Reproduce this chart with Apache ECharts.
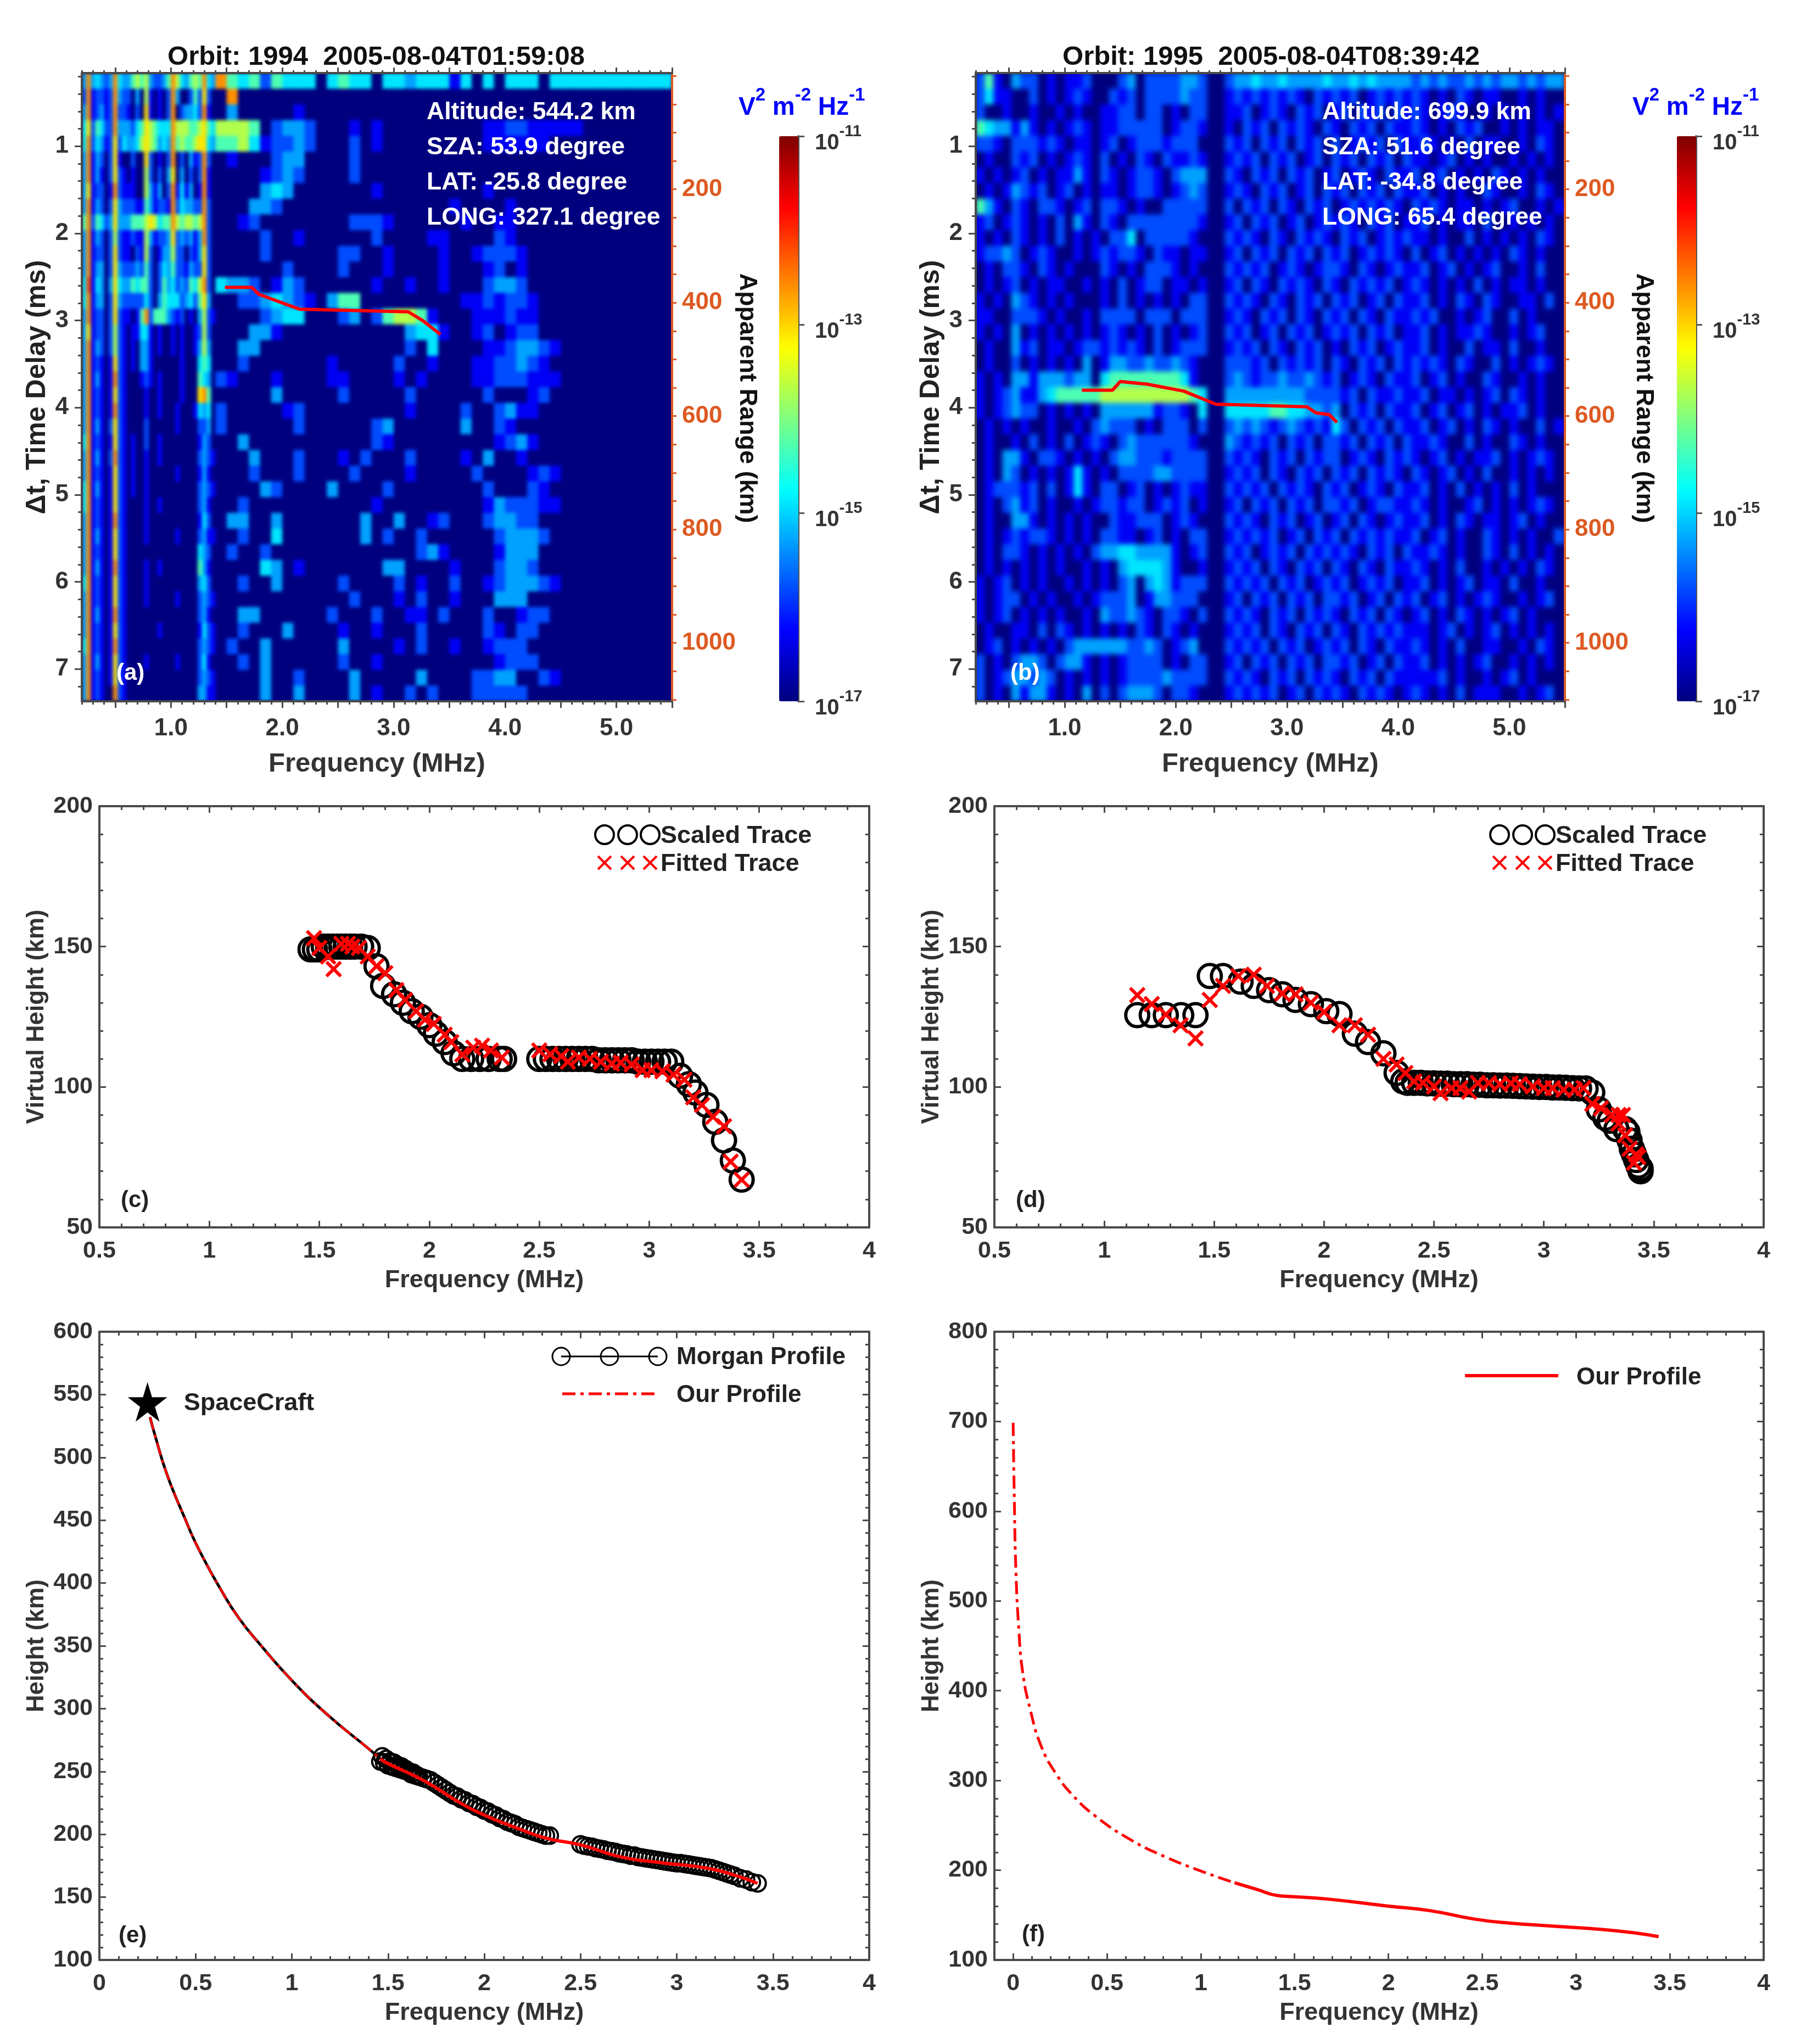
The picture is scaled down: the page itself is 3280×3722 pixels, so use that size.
<!DOCTYPE html>
<html>
<head>
<meta charset="utf-8">
<style>
  html, body { margin: 0; padding: 0; background: #fff; }
  #page { position: relative; width: 3280px; height: 3722px; overflow: hidden; }
  #main { position: absolute; left: 0; top: 0; width: 3280px; height: 3722px; z-index: 2; }
  .plot { position: absolute; overflow: hidden; background: #00007f; z-index: 1; }
  .cells { width: 100%; height: 100%; }
  #cellsA { filter: blur(3px); }
  #cellsB { filter: blur(5px); }
</style>
<script src="https://cdn.jsdelivr.net/npm/echarts@6/dist/echarts.min.js"></script>
</head>
<body>
<div id="page">
  <div class="plot" style="left:149px;top:133px;width:1075px;height:1144px"><div class="cells" id="cellsA"></div></div>
  <div class="plot" style="left:1777px;top:133px;width:1073px;height:1144px"><div class="cells" id="cellsB"></div></div>
  <div id="main"></div>
</div>
<script>
// spectrogram levels, one char per cell, one string per delay bin
// 0 = background ... 9 = strongest, see levelExponent
const levelExponent = [-17, -16.3, -15.8, -15.3, -14.9, -14.3, -13.7, -13.1, -12.6, -12.2];

// panel (a): 30 narrow frequency bins (0.2-1.4 MHz) then 41 wide ones (1.4-5.5 MHz)
const spectrogramA = [
  '3834323843 3565632235 8643565843 8545254440 4544044344 4140404440 4444444444 4',
  '2812212832 2030610102 8300252720 0800000000 0000000000 0000000000 0000000000 0',
  '3812312822 1020710102 8023342810 0300000100 0000000000 0000000000 0000000000 0',
  '4725422833 3245765444 8666556754 6665023320 0010100000 0000112211 1110000000 0',
  '4824312724 3346765343 8565567743 5564122320 0020100000 0000111111 0000000000 0',
  '3813202710 0200720102 8020312820 0100023300 0020000000 0000000000 0000000000 0',
  '3813102721 0100620203 7030202810 0000123200 0020000000 0000000000 0000000000 0',
  '3712201821 1100631302 8141301810 0000343000 0000100000 0000100000 0000000000 0',
  '3813202732 2211531221 8243322820 0003320000 0000000000 0100001000 0000000000 0',
  '5825423733 3555676455 8656656820 0012000000 0022210000 0010011000 0000000000 0',
  '3813202621 1211631223 7232313820 0000200100 0000200001 1000021000 0000000000 0',
  '3812202721 1021620133 6220213720 0000200000 0220010000 1001222100 0000000000 0',
  '3813302732 2232520243 5221322720 0000002000 0200010000 1000120100 0000000000 0',
  '4914303743 3545520253 4232546820 4332013200 0000100100 1000233200 0000000000 0',
  '4813302732 2222420354 4423425730 0022343210 3550000000 0011212210 0000000000 0',
  '3812202721 1015825553 2120103621 0000234400 0230256651 0001112110 0000000000 0',
  '3712202621 0114410100 1010012620 0003310000 0000000344 1001201220 0000000000 0',
  '3813202621 0103310100 1010013630 0033000000 0000000204 0000112332 1000000000 0',
  '3812101721 0103310000 0010004540 0020000000 1000002001 0001122321 0000000000 0',
  '3813101821 0001210100 0010005430 2100010000 1100001010 0001122211 1000000000 0',
  '3812101721 0000100100 0010007850 0000030000 0200000200 0000200012 0000000000 0',
  '3812101821 0000100100 0100014340 2000001200 0000000100 0020023110 0000000000 0',
  '3813102721 0000200000 0100002230 2000000200 0000230000 0030021000 0000000000 0',
  '4812101721 0100200100 0000001320 0030000000 0000210000 0000012310 0000000000 0',
  '3813102821 0100100100 0000002321 0003000200 0102000200 0010300100 0000000000 0',
  '3812101721 0100100000 0100001310 0002000200 0020000100 0002000012 1000000000 0',
  '4813101721 0100100000 0000002321 0000320000 3000020000 0000200021 0000000000 0',
  '4812101721 0000100100 0000002310 0020000000 0000100000 0000132221 1000000000 0',
  '3812101821 0000100000 0000001420 0330030000 0003003001 2000233220 0000000000 0',
  '3813101721 0000100000 0100002311 0020040000 0003020020 0000023332 0000000000 0',
  '3812101721 0000000000 0000004320 0200200000 0000000023 1000013330 0000000000 0',
  '3813101821 0000100100 0000005310 0000430100 0000033000 0100023320 0000000000 0',
  '4812101721 0000100000 0000003420 0020030000 0200002010 0200123332 1000000000 0',
  '3812101721 0000100000 0100002321 0000000000 0020001020 0100033300 0000000000 0',
  '3813101821 0000000000 0000002310 0033000000 2000200110 2000200122 0000000000 0',
  '3812101721 0000000100 0000001421 0020003000 0100100020 0000210220 0000000000 0',
  '4812101821 0000000000 0000002321 0200300000 0300001020 0100122200 0000000000 0',
  '3813101721 0000100000 0100002410 0020300000 0200100000 0000012220 0000000000 0',
  '3812101721 0000000000 0000002321 0000300200 0030000030 0002233002 1000000000 0',
  '3812100821 0000000000 0000003311 0000300300 0030100202 0002222200 0000000000 0'
];

// panel (b): 66 frequency bins of 0.08 MHz from 0.2 MHz
const spectrogramB = [
  '2510322010 1120002302 22233200 23 3433433334 3343433332 3232232323 323233',
  '2411002010 1210021202 22232200 12 1212121021 2120121212 1010210110 010100',
  '2001001001 0100112202 20102200 11 2012102120 1202120212 1012100101 010101',
  '5433131010 1210112222 20122100 10 2120212102 1021202112 1010212001 010110',
  '2210222121 0110120122 21222000 21 2021202120 2012120211 2101020110 010210',
  '0100212010 1210201021 02112100 12 1202120120 2120212021 1012010100 101010',
  '1010120101 1310210122 10233300 21 0212021201 2012102112 0120101021 010100',
  '0101321201 2010110122 10123200 12 1021201202 1202120211 2010100210 010210',
  '5310210221 0120221010 02222200 20 2120210212 0121212102 1210110101 200101',
  '1201210102 0310210222 22222100 12 0212012012 1210212011 2010110200 101010',
  '1010210102 0101022402 22221000 21 2102102121 0212012121 1010020101 010210',
  '1223201210 0101212210 21101100 12 0212021202 1201212102 0120101010 210100',
  '0102210210 1000210102 22101000 21 2120121012 2102101211 2012010120 010200',
  '0101201011 0010102012 20110100 12 0210212102 1021212012 1010102010 110100',
  '1010321010 1000102010 10102200 21 2102102120 2120120211 2010210210 011020',
  '1100222101 0010222202 22022200 12 1021202102 1202102112 1200101200 201000',
  '1010301010 1010121010 20101200 21 2012021201 2120212011 2010112100 101200',
  '0100312011 0122121210 20122200 12 1202102120 1021201211 2010020110 200100',
  '0100201010 1030133223 22321000 22 2120212120 2102120212 1210210020 101210',
  '1010331333 2330455555 55541000 23 2122322321 2012102112 0120100210 010100',
  '1012311345 5555666666 66665400 33 3333333222 2120211211 2011010120 210100',
  '1012322010 1010333333 12210400 44 4445544332 3021202112 0120120101 120100',
  '0101010010 0102322201 02220200 23 2321232121 4202120211 2012010210 100201',
  '0100102010 2012102322 22221000 32 1212021202 2120212021 1210020100 210100',
  '0103310221 0101023322 21222200 21 2102120212 2012102121 0120101120 101210',
  '0103201010 1410102222 33222200 12 1202102120 2120212102 1012010200 101010',
  '0122212020 1410220120 10121100 21 2120212102 1201210211 2010201010 201000',
  '0102312010 0101221220 12120100 12 0212021202 2120122112 1010012010 101210',
  '0100331010 1010021122 20121000 21 2102120120 1202101211 2010210110 120100',
  '0101212210 1010221101 20102200 12 1212012021 2021212112 0120100210 101002',
  '0102210101 0102334433 33101200 21 2012120212 1210212021 1210100210 201010',
  '0101010101 0010103444 43100100 12 1202102120 2102102112 1010200101 010210',
  '1012010100 1010102303 43122200 21 2120212012 1201212011 2010120110 200100',
  '1012201010 0101222301 33222000 12 0212021202 2120120212 0120101210 010120',
  '1012010101 0010322321 02210200 21 2102120212 1021202101 2010210101 201000',
  '0100110202 1010101021 02101000 12 1202102120 2102121211 1012010120 101010',
  '0120101010 2333333223 20123000 21 2120212012 1202102112 1010200110 010210',
  '2010233202 3310101222 20102200 12 0212021202 2120120211 2010101200 101010',
  '2012332320 1010101222 23222200 21 2102120212 1021202111 1120100101 201000',
  '2010313310 1030202333 20221000 12 1212012021 2102121012 1010201110 010120'
];

// scaled trace overlaid on the spectrograms: [MHz, ms]
const overlayA = [[1.485, 2.62], [1.727, 2.62], [1.79, 2.70], [2.155, 2.87], [3.13, 2.90], [3.26, 3.0], [3.42, 3.16]];
const overlayB = [[1.155, 3.8], [1.43, 3.8], [1.5, 3.7], [1.74, 3.73], [2.07, 3.81], [2.36, 3.96], [3.18, 3.99], [3.26, 4.06], [3.38, 4.08], [3.45, 4.17]];

// panel (c): [MHz, km]
const scaledC = [[1.46, 149], [1.48, 149], [1.5, 149], [1.52, 150], [1.54, 150], [1.56, 150], [1.58, 150], [1.6, 150], [1.62, 150], [1.64, 150], [1.66, 150], [1.69, 150], [1.72, 149.5],
  [1.76, 143], [1.79, 136], [1.84, 133], [1.88, 130], [1.92, 127], [1.96, 125], [2.0, 122], [2.03, 119], [2.07, 116], [2.11, 112], [2.15, 110], [2.19, 110], [2.23, 110], [2.27, 110], [2.32, 110], [2.34, 110],
  [2.5, 110], [2.53, 110], [2.56, 110], [2.59, 110], [2.62, 110], [2.65, 110], [2.68, 110], [2.71, 110], [2.74, 110], [2.77, 109.5], [2.8, 109.5], [2.83, 109.5], [2.86, 109.5], [2.89, 109.5], [2.92, 109.5], [2.95, 109], [2.98, 109], [3.01, 109], [3.04, 109], [3.07, 109], [3.1, 109],
  [3.14, 104], [3.18, 101], [3.21, 98], [3.26, 93.6], [3.3, 87.6], [3.34, 81], [3.38, 73.8], [3.42, 67]];
const fittedC = [[1.476, 153], [1.5, 149.5], [1.54, 146.5], [1.565, 142], [1.6, 151], [1.63, 151], [1.65, 150], [1.68, 149.5], [1.72, 146.5], [1.76, 143], [1.8, 140.5], [1.85, 134.5], [1.89, 131], [1.94, 127], [1.98, 124], [2.02, 122.5], [2.07, 118.6], [2.1, 116], [2.15, 111.6], [2.2, 114], [2.24, 114.7], [2.28, 113], [2.33, 110.5],
  [2.5, 113], [2.55, 111.7], [2.6, 111], [2.63, 109], [2.68, 110.5], [2.73, 110], [2.78, 109], [2.83, 108.3], [2.87, 108.7], [2.92, 108], [2.97, 106], [3.01, 106], [3.06, 105.6], [3.11, 104.4], [3.16, 102.6], [3.2, 96.3], [3.24, 93.6], [3.29, 89.4], [3.34, 86], [3.37, 73.4], [3.42, 67]];

// panel (d): [MHz, km]
const scaledD = [[1.15, 125.6], [1.216, 125.6], [1.28, 125.6], [1.35, 125.6], [1.415, 125.6], [1.48, 139.5], [1.54, 139.5], [1.62, 137.5], [1.68, 136], [1.75, 134.5], [1.81, 133], [1.87, 131], [1.94, 129.5], [2.01, 127], [2.07, 126], [2.14, 119], [2.2, 116], [2.27, 112], [2.33, 105], [2.36, 102],
  [2.38, 101.5], [2.41, 101.5], [2.44, 101.5], [2.47, 101.3], [2.5, 101.3], [2.53, 101.2], [2.56, 101.2], [2.59, 101], [2.62, 101], [2.65, 101], [2.68, 100.8], [2.71, 100.8], [2.74, 100.6], [2.77, 100.6], [2.8, 100.5], [2.83, 100.5], [2.86, 100.4], [2.89, 100.3], [2.92, 100.2], [2.95, 100.1], [2.98, 100], [3.01, 100], [3.04, 99.8], [3.07, 99.8], [3.1, 99.7], [3.13, 99.6], [3.16, 99.5], [3.19, 99.5],
  [3.22, 98], [3.25, 92], [3.28, 89], [3.3, 88], [3.33, 85], [3.37, 85], [3.38, 84], [3.39, 81], [3.4, 78], [3.41, 76], [3.42, 74], [3.43, 72], [3.44, 71], [3.44, 70]];
const fittedD = [[1.15, 132.7], [1.216, 129.5], [1.28, 125.8], [1.347, 122], [1.415, 117.3], [1.48, 131], [1.54, 136], [1.61, 139.5], [1.68, 140], [1.74, 136], [1.81, 133.3], [1.87, 133], [1.94, 130], [2.0, 126.7], [2.07, 122], [2.14, 122], [2.2, 118.6], [2.27, 110], [2.33, 108], [2.37, 105], [2.41, 102], [2.45, 101.5], [2.5, 100.2], [2.53, 97.8], [2.58, 99.6], [2.62, 99.6], [2.66, 98.4], [2.7, 101.4], [2.75, 101.4], [2.8, 101], [2.85, 101.3], [2.89, 101], [2.95, 100.2], [3.0, 99.6], [3.04, 99.6], [3.09, 99], [3.14, 99], [3.18, 99.6], [3.22, 94], [3.26, 92.4], [3.31, 90], [3.34, 90], [3.36, 90], [3.34, 87], [3.37, 82.8], [3.39, 78], [3.42, 76], [3.41, 73], [3.43, 75]];

// panel (e): [MHz, km]
const spacecraftE = [[0.25, 544.2]];
const modelProfileE = [[0.263, 532], [0.29, 517], [0.35, 487], [0.44, 453], [0.516, 427], [0.636, 393.5], [0.725, 372], [0.83, 352], [1.0, 322.5], [1.19, 294.5], [1.4, 268], [1.46, 260]];
const measuredProfileE = [[1.46, 260], [1.49, 257], [1.695, 242], [1.875, 225], [2.02, 214], [2.17, 205], [2.32, 197], [2.5, 191.6], [2.71, 182], [2.92, 177.4], [3.16, 173], [3.31, 167], [3.42, 161]];
const morganE = [[1.46, 258], [1.47, 262], [1.48, 257], [1.49, 260], [1.5, 255], [1.51, 258], [1.52, 254], [1.53, 257], [1.54, 253], [1.55, 255], [1.56, 252], [1.57, 254], [1.58, 251], [1.59, 252], [1.6, 250], [1.61, 250], [1.62, 248], [1.63, 249], [1.64, 247], [1.65, 247], [1.66, 246], [1.68, 245], [1.7, 244], [1.72, 243], [1.74, 241], [1.76, 239], [1.78, 237], [1.8, 235], [1.82, 233], [1.84, 231], [1.86, 230], [1.88, 228], [1.9, 227], [1.92, 225], [1.94, 224], [1.96, 222], [1.98, 221], [2.0, 219], [2.02, 218], [2.04, 216], [2.06, 215], [2.08, 213], [2.1, 212], [2.12, 210], [2.14, 209], [2.16, 208], [2.18, 206], [2.2, 205], [2.22, 204], [2.24, 203], [2.26, 202], [2.28, 201], [2.3, 200], [2.32, 199], [2.34, 199],
  [2.5, 192], [2.52, 191], [2.54, 190.5], [2.56, 190], [2.58, 189], [2.6, 188.5], [2.62, 188], [2.64, 187], [2.66, 186.5], [2.68, 186], [2.7, 185], [2.72, 184.5], [2.74, 184], [2.76, 183], [2.78, 183], [2.8, 182], [2.82, 181.5], [2.84, 181], [2.86, 180.5], [2.88, 180], [2.9, 179.5], [2.92, 179], [2.94, 178.5], [2.96, 178], [2.98, 177.5], [3.0, 177], [3.02, 177], [3.04, 176.5], [3.06, 176], [3.08, 175.5], [3.1, 175], [3.12, 174.5], [3.14, 174], [3.16, 173.5], [3.18, 173], [3.2, 172], [3.22, 171], [3.24, 170], [3.26, 169], [3.28, 168], [3.3, 167], [3.33, 165], [3.36, 164], [3.39, 162], [3.42, 161]];

// panel (f): [MHz, km]
const modelProfileF = [[0, 698.5], [0.006, 615.7], [0.015, 532], [0.03, 469], [0.05, 422], [0.09, 380], [0.15, 338], [0.23, 307], [0.32, 283], [0.44, 260], [0.63, 233.5], [0.81, 215], [0.995, 199.5], [1.18, 186]];
const measuredProfileF = [[1.18, 186], [1.3, 178.5], [1.41, 171.7], [1.48, 170.7], [1.67, 168], [2.0, 160], [2.22, 155], [2.46, 145.5], [2.65, 141], [2.86, 138], [3.14, 134], [3.32, 130], [3.44, 126]];

// tick labels
const spectrogramFreqLabels = [1, 2, 3, 4, 5];
const delayLabels = [1, 2, 3, 4, 5, 6, 7];
const rangeLabels = [200, 400, 600, 800, 1000];

const FONT = 'Liberation Sans';
const INK = '#333333';
const BOX = '#4a4a4a';
const ORANGE = '#dd5a22';
const JET = ['#00007f', '#0000ff', '#007fff', '#00ffff', '#7fff7f', '#ffff00', '#ff7f00', '#ff0000', '#7f0000'];
const STAR = 'path://M50,0L61,35L98,35L68,57L79,91L50,70L21,91L32,57L2,35L39,35Z';
const CROSS = 'path://M0,0L10,10M10,0L0,10';
const DELAY_MIN = 0.16, DELAY_MAX = 7.37;

const grids = [], xAxes = [], yAxes = [], seriesList = [], shapes = [];

function range(from, to, step) {
    const out = [];
    for (let i = 0; from + i * step <= to + 1e-9; i++) {
        out.push(Math.round((from + i * step) * 1000) / 1000);
    }
    return out;
}

function addGrid(left, top, right, bottom) {
    grids.push({ left: left, top: top, width: right - left, height: bottom - top, containLabel: false });
    return grids.length - 1;
}

function addAxis(list, config) {
    const color = config.color || BOX;
    const axis = Object.assign({
        type: 'value',
        splitLine: { show: false },
        nameLocation: 'middle',
        nameTextStyle: { fontFamily: FONT, fontWeight: 'bold', fontSize: config.nameSize || 44, color: config.nameColor || INK }
    }, config);
    axis.axisLine = { show: config.hideLine ? false : true, onZero: false, lineStyle: { color: color, width: 4 } };
    axis.axisTick = Object.assign({ lineStyle: { color: color, width: 3 } }, config.tick);
    axis.minorTick = Object.assign({ show: false, lineStyle: { color: color, width: 3 } }, config.minor);
    axis.axisLabel = Object.assign({ fontFamily: FONT, fontWeight: 'bold', fontSize: config.labelSize || 43, color: config.labelColor || INK, margin: config.margin || 12 }, config.label);
    delete axis.color; delete axis.tick; delete axis.minor; delete axis.label; delete axis.hideLine;
    delete axis.nameSize; delete axis.nameColor; delete axis.labelSize; delete axis.labelColor; delete axis.margin;
    list.push(axis);
    return list.length - 1;
}

function renderCell(params, api) {
    const a = api.coord([api.value(0), api.value(2)]);
    const b = api.coord([api.value(1), api.value(3)]);
    return {
        type: 'rect',
        shape: { x: a[0], y: a[1], width: b[0] - a[0] + 1, height: b[1] - a[1] + 1 },
        style: { fill: api.visual('color') }
    };
}

// rows of level chars -> [f0, f1, t0, t1, exponent]
function spectrogramCells(rows, freqEdges) {
    const cells = [];
    const rowStep = (DELAY_MAX - DELAY_MIN) / rows.length;
    rows.forEach(function (row, r) {
        row.replace(/ /g, '').split('').forEach(function (ch, c) {
            if (c + 1 < freqEdges.length) {
                cells.push([freqEdges[c], freqEdges[c + 1], DELAY_MIN + r * rowStep, DELAY_MIN + (r + 1) * rowStep, levelExponent[+ch]]);
            }
        });
    });
    return cells;
}

// the cells sit in their own softened chart under the axes
function drawCells(id, rows, freqEdges) {
    const chart = echarts.init(document.getElementById(id));
    chart.setOption({
        animation: false,
        backgroundColor: 'transparent',
        grid: { left: 0, right: 0, top: 0, bottom: 0 },
        xAxis: { type: 'value', show: false, min: 0.2, max: 5.5 },
        yAxis: { type: 'value', show: false, min: DELAY_MIN, max: DELAY_MAX, inverse: true },
        visualMap: { show: false, type: 'continuous', min: -17, max: -11, dimension: 4, seriesIndex: 0, inRange: { color: JET } },
        series: [{
            type: 'custom', renderItem: renderCell, silent: true, clip: false,
            encode: { x: [0, 1], y: [2, 3] }, progressive: 0,
            data: spectrogramCells(rows, freqEdges)
        }]
    });
}

function addSpectrogramPanel(left, right, overlay) {
    const top = 133, bottom = 1277;
    const g = addGrid(left, top, right, bottom);
    const majorF = range(0.5, 5.5, 0.5);
    const x = addAxis(xAxes, {
        gridIndex: g, min: 0.2, max: 5.5, position: 'bottom',
        name: 'Frequency (MHz)', nameGap: 90, nameSize: 49, margin: 28, labelSize: 44,
        tick: { length: 12, customValues: majorF },
        label: { customValues: spectrogramFreqLabels, formatter: function (v) { return v.toFixed(1); } }
    });
    addAxis(xAxes, { gridIndex: g, min: 0.2, max: 5.5, position: 'top', tick: { length: 10, customValues: majorF }, label: { show: false } });
    const y = addAxis(yAxes, {
        gridIndex: g, min: DELAY_MIN, max: DELAY_MAX, inverse: true, position: 'left',
        name: '\u0394t, Time Delay (ms)', nameGap: 56, nameSize: 50, margin: 24, labelSize: 44, nameColor: '#222222',
        tick: { length: 13, customValues: delayLabels },
        label: { customValues: delayLabels, padding: [10, 0, 0, 0], formatter: function (v) { return v; } }
    });
    addAxis(yAxes, {
        gridIndex: g, min: -5, max: 1103, inverse: true, position: 'right', color: ORANGE,
        labelColor: ORANGE, labelSize: 44, margin: 18,
        tick: { length: 8, customValues: range(0, 1100, 50) },
        label: { customValues: rangeLabels, padding: [4, 0, 0, 0], formatter: function (v) { return String(v); } }
    });

    // second grid on the same spot only for the minor ticks
    const m = addGrid(left, top, right, bottom);
    const minorF = range(0.2, 5.5, 0.1);
    const minorT = range(0.2, 7.2, 0.2);
    addAxis(xAxes, { gridIndex: m, min: 0.2, max: 5.5, position: 'bottom', hideLine: true, tick: { length: 6, customValues: minorF }, label: { show: false } });
    addAxis(xAxes, { gridIndex: m, min: 0.2, max: 5.5, position: 'top', hideLine: true, tick: { length: 5, customValues: minorF }, label: { show: false } });
    addAxis(yAxes, { gridIndex: m, min: DELAY_MIN, max: DELAY_MAX, inverse: true, position: 'left', hideLine: true, tick: { length: 7, customValues: minorT }, label: { show: false } });

    seriesList.push({
        type: 'line', xAxisIndex: x, yAxisIndex: y, data: overlay, showSymbol: false, z: 5,
        lineStyle: { color: '#ff0000', width: 6 }
    });
}

function addColorbar(left, visualMaps) {
    const top = 248, bottom = 1277, width = 35;
    const g = addGrid(left, top, left + width, bottom);
    addAxis(xAxes, { gridIndex: g, show: false, min: 0, max: 1 });
    addAxis(yAxes, {
        gridIndex: g, min: -17, max: -11, interval: 2, position: 'right', color: '#555555', margin: 30,
        tick: { length: 11 },
        label: {
            padding: [10, 0, 0, 0],
            formatter: function (v) { return '{b|10}{s|' + v + '}'; },
            rich: {
                b: { fontFamily: FONT, fontWeight: 'bold', fontSize: 40, color: INK, lineHeight: 56, verticalAlign: 'bottom' },
                s: { fontFamily: FONT, fontWeight: 'bold', fontSize: 29, color: INK, lineHeight: 56, verticalAlign: 'top' }
            }
        }
    });
    visualMaps.push({
        type: 'continuous', min: -17, max: -11, dimension: 0, seriesIndex: [],
        left: left, top: top, itemWidth: width, itemHeight: bottom - top, padding: 0,
        calculable: false, text: ['', ''], showLabel: false, hoverLink: false,
        inRange: { color: JET }
    });
}

function addTracePanel(left, right, top, bottom, xMin, yMin, yMax, yStep, yName, labelPad) {
    const g = addGrid(left, top, right, bottom);
    const majorX = range(0, 4, 0.5).filter(function (v) { return v >= xMin; });
    const tickLen = { length: 12, inside: true };
    const minorLen = { show: true, splitNumber: 5, length: 7 };
    const xBase = { gridIndex: g, min: xMin, max: 4 };
    const xTick = Object.assign({ customValues: majorX }, tickLen);
    const x = addAxis(xAxes, Object.assign({
        position: 'bottom', name: 'Frequency (MHz)', nameGap: 74, nameSize: 45, margin: 22,
        tick: xTick, label: { customValues: majorX, formatter: function (v) { return String(v); } }
    }, xBase));
    addAxis(xAxes, Object.assign({ position: 'top', tick: xTick, label: { show: false } }, xBase));
    const yBase = { gridIndex: g, min: yMin, max: yMax, interval: yStep };
    const y = addAxis(yAxes, Object.assign({
        position: 'left', name: yName, nameGap: 92, nameSize: 44, margin: 12, tick: tickLen, minor: minorLen,
        label: { padding: [labelPad, 0, 0, 0] }
    }, yBase));
    addAxis(yAxes, Object.assign({ position: 'right', tick: tickLen, minor: minorLen, label: { show: false } }, yBase));

    const m = addGrid(left, top, right, bottom);
    const minorX = range(0, 4, 0.1).filter(function (v) { return v >= xMin; });
    addAxis(xAxes, { gridIndex: m, min: xMin, max: 4, position: 'bottom', hideLine: true, tick: { length: 7, inside: true, customValues: minorX }, label: { show: false } });
    addAxis(xAxes, { gridIndex: m, min: xMin, max: 4, position: 'top', hideLine: true, tick: { length: 7, inside: true, customValues: minorX }, label: { show: false } });
    addAxis(yAxes, { gridIndex: m, min: yMin, max: yMax, show: false });
    return { x: x, y: y };
}

function addText(x, y, text, size, color, align, rotation) {
    shapes.push({
        type: 'text', x: x, y: y, z: 50, silent: true, rotation: rotation || 0,
        style: { text: text, fill: color || INK, font: 'bold ' + size + 'px "' + FONT + '"', align: align || 'left', verticalAlign: 'middle' }
    });
}

function addUnitText(x, y) {
    shapes.push({
        type: 'text', x: x, y: y, z: 50, silent: true,
        style: {
            text: '{v|V}{s|2}{v| m}{s|-2}{v| Hz}{s|-1}',
            rich: {
                v: { fill: '#0000ff', font: 'bold 46px "' + FONT + '"', lineHeight: 62, verticalAlign: 'bottom' },
                s: { fill: '#0000ff', font: 'bold 33px "' + FONT + '"', lineHeight: 62, verticalAlign: 'top' }
            },
            align: 'left', verticalAlign: 'middle'
        }
    });
}

function addCircle(cx, cy, r, width) {
    shapes.push({ type: 'circle', z: 50, silent: true, shape: { cx: cx, cy: cy, r: r }, style: { fill: 'none', stroke: '#000000', lineWidth: width } });
}

function addLine(x1, y, x2, y2, color, width, dash) {
    shapes.push({ type: 'line', z: 50, silent: true, shape: { x1: x1, y1: y, x2: x2, y2: y2 }, style: { stroke: color, lineWidth: width, lineDash: dash || null } });
}

function addCross(cx, cy, size) {
    addLine(cx - size, cy - size, cx + size, cy + size, '#ff0000', 4);
    addLine(cx - size, cy + size, cx + size, cy - size, '#ff0000', 4);
}

function addTraceLegend(dx) {
    [1101, 1143, 1184].forEach(function (x) { addCircle(x + dx, 1520, 17, 4); addCross(x + dx, 1571, 12); });
    addText(1203 + dx, 1523, 'Scaled Trace', 45, '#222222');
    addText(1203 + dx, 1574, 'Fitted Trace', 45, '#222222');
}

function scatter(panel, data, symbol, size, itemStyle, z) {
    seriesList.push({ type: 'scatter', xAxisIndex: panel.x, yAxisIndex: panel.y, data: data, symbol: symbol, symbolSize: size, itemStyle: itemStyle, z: z });
}

function line(panel, data, lineStyle, z) {
    seriesList.push({ type: 'line', xAxisIndex: panel.x, yAxisIndex: panel.y, data: data, showSymbol: false, smooth: true, lineStyle: lineStyle, z: z });
}

const CIRCLE_STYLE = { color: 'none', borderColor: '#000000', borderWidth: 6, opacity: 1 };
const CROSS_STYLE = { color: 'none', borderColor: '#ff0000', borderWidth: 6, opacity: 1 };
const DASH_DOT = [24, 9, 6, 9];

// frequency bins of the two spectrograms
const freqEdgesA = range(0.2, 1.36, 0.04).concat(range(1.4, 5.5, 0.1));
const freqEdgesB = range(0.2, 5.4, 0.08).concat([5.5]);

drawCells('cellsA', spectrogramA, freqEdgesA);
drawCells('cellsB', spectrogramB, freqEdgesB);

const visualMaps = [];
addSpectrogramPanel(149, 1224, overlayA);
addSpectrogramPanel(1777, 2850, overlayB);
addColorbar(1419, visualMaps);
addColorbar(3054, visualMaps);

const panelC = addTracePanel(181, 1583, 1468, 2235, 0.5, 50, 200, 50, 'Virtual Height (km)', 8);
const panelD = addTracePanel(1811, 3212, 1468, 2235, 0.5, 50, 200, 50, 'Virtual Height (km)', 8);
const panelE = addTracePanel(181, 1583, 2425, 3569, 0, 100, 600, 50, 'Height (km)', 0);
const panelF = addTracePanel(1811, 3212, 2425, 3569, -0.1, 100, 800, 100, 'Height (km)', 0);

scatter(panelC, scaledC, 'circle', 42, CIRCLE_STYLE, 3);
scatter(panelC, fittedC, CROSS, 26, CROSS_STYLE, 4);
scatter(panelD, scaledD, 'circle', 42, CIRCLE_STYLE, 3);
scatter(panelD, fittedD, CROSS, 26, CROSS_STYLE, 4);

line(panelE, modelProfileE, { color: '#000000', width: 5 }, 2);
scatter(panelE, morganE, 'circle', 30, { color: 'none', borderColor: '#000000', borderWidth: 4, opacity: 1 }, 3);
line(panelE, modelProfileE, { color: '#ff0000', width: 4, type: DASH_DOT }, 5);
line(panelE, measuredProfileE, { color: '#ff0000', width: 6 }, 5);
seriesList.push({
    type: 'scatter', xAxisIndex: panelE.x, yAxisIndex: panelE.y, data: spacecraftE, symbol: STAR, symbolSize: 72, z: 6,
    itemStyle: { color: '#000000', opacity: 1 },
    label: {
        show: true, position: 'right', distance: 30, offset: [0, 3], formatter: 'SpaceCraft',
        fontFamily: FONT, fontWeight: 'bold', fontSize: 45, color: '#222222', opacity: 1
    }
});

line(panelF, modelProfileF, { color: '#ff0000', width: 5, type: DASH_DOT }, 5);
line(panelF, measuredProfileF, { color: '#ff0000', width: 6 }, 5);

// readouts and panel letters
['Altitude: 544.2 km', 'SZA: 53.9 degree', 'LAT: -25.8 degree', 'LONG: 327.1 degree'].forEach(function (t, i) {
    addText(777, 205 + i * 64, t, 44.5, '#ffffff');
});
['Altitude: 699.9 km', 'SZA: 51.6 degree', 'LAT: -34.8 degree', 'LONG: 65.4 degree'].forEach(function (t, i) {
    addText(2408, 205 + i * 64, t, 44.5, '#ffffff');
});
addText(212, 1226, '(a)', 42, '#ffffff');
addText(1840, 1226, '(b)', 42, '#ffffff');
addText(220, 2186, '(c)', 42, '#222222');
addText(1850, 2186, '(d)', 42, '#222222');
addText(216, 3525, '(e)', 42, '#222222');
addText(1861, 3523, '(f)', 42, '#222222');

addText(1360, 725, 'Apparent Range (km)', 45, '#111111', 'center', -Math.PI / 2);
addText(2993, 725, 'Apparent Range (km)', 45, '#111111', 'center', -Math.PI / 2);

addUnitText(1345, 188);
addUnitText(2973, 188);

addTraceLegend(0);
addTraceLegend(1630);

// legend (e)
addLine(1022, 2470, 1198, 2470, '#000000', 3);
[1022, 1110, 1198].forEach(function (x) { addCircle(x, 2470, 16, 3); });
addText(1232, 2472, 'Morgan Profile', 44, '#222222');
addLine(1024, 2538, 1194, 2538, '#ff0000', 5, DASH_DOT);
addText(1232, 2541, 'Our Profile', 44, '#222222');

// legend (f)
addLine(2668, 2505, 2838, 2505, '#ff0000', 6);
addText(2871, 2509, 'Our Profile', 44, '#222222');

const myChart = echarts.init(document.getElementById('main'));
const option = {
    animation: false,
    backgroundColor: 'transparent',
    title: [
        { text: 'Orbit: 1994  2005-08-04T01:59:08', left: 685, top: 80, textAlign: 'center', padding: 0, textStyle: { fontFamily: FONT, fontWeight: 'bold', fontSize: 49, color: '#111111' } },
        { text: 'Orbit: 1995  2005-08-04T08:39:42', left: 2315, top: 80, textAlign: 'center', padding: 0, textStyle: { fontFamily: FONT, fontWeight: 'bold', fontSize: 49, color: '#111111' } }
    ],
    grid: grids,
    xAxis: xAxes,
    yAxis: yAxes,
    visualMap: visualMaps,
    series: seriesList,
    graphic: shapes
};
myChart.setOption(option);
</script>
</body>
</html>
